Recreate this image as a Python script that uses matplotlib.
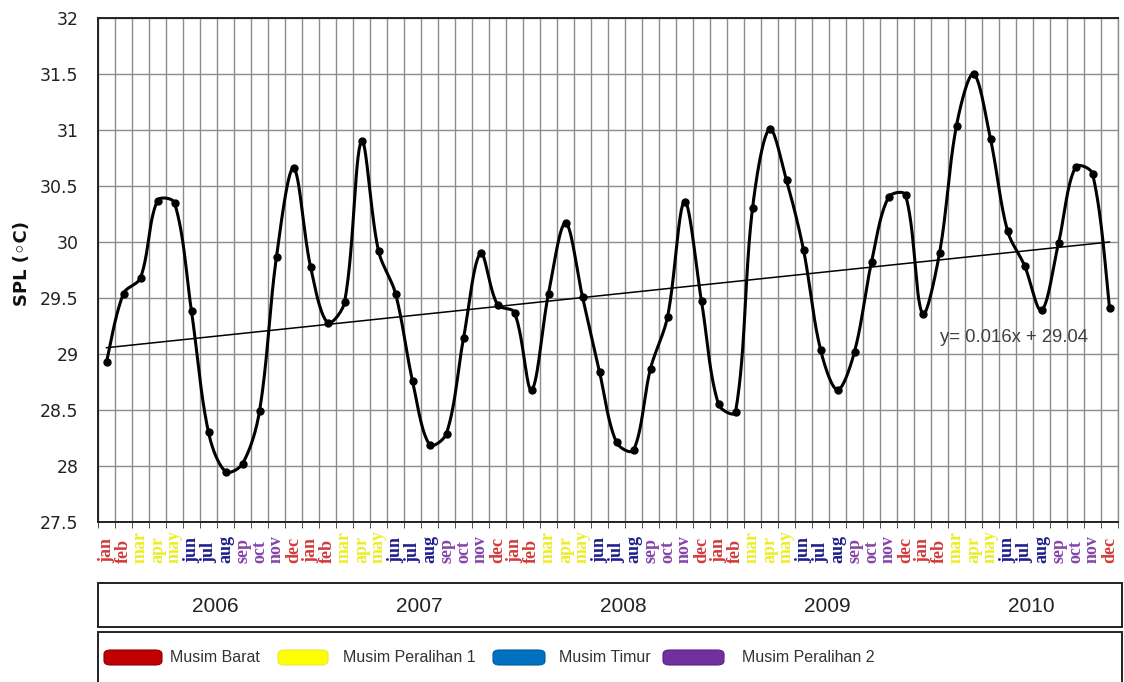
import numpy as np
import matplotlib
matplotlib.use('Agg')
import matplotlib.pyplot as plt
from matplotlib.patches import Rectangle, FancyBboxPatch
from matplotlib.transforms import blended_transform_factory

# ---------------- data ----------------
months = ['jan', 'feb', 'mar', 'apr', 'may', 'jun', 'jul', 'aug', 'sep', 'oct', 'nov', 'dec']
years = ['2006', '2007', '2008', '2009', '2010']
spl = [
    28.93, 29.54, 29.68, 30.37, 30.35, 29.38, 28.30, 27.95, 28.02, 28.49, 29.87, 30.66,   # 2006
    29.78, 29.28, 29.46, 30.90, 29.92, 29.54, 28.76, 28.19, 28.29, 29.14, 29.90, 29.44,   # 2007
    29.37, 28.68, 29.54, 30.17, 29.51, 28.84, 28.21, 28.14, 28.87, 29.33, 30.36, 29.47,   # 2008
    28.55, 28.48, 30.30, 31.01, 30.55, 29.93, 29.04, 28.68, 29.02, 29.82, 30.40, 30.42,   # 2009
    29.36, 29.90, 31.04, 31.50, 30.92, 30.10, 29.79, 29.39, 29.99, 30.67, 30.61, 29.41,   # 2010
]
trend_slope = 0.016
trend_intercept = 29.04
season_names = ['Musim Barat', 'Musim Peralihan 1', 'Musim Timur', 'Musim Peralihan 2']
season_colors = ['#C00000', '#FFFF00', '#0070C0', '#7030A0']
season_edges = ['#900000', '#E8E840', '#005A9C', '#5A2080']
month_season = [0, 0, 1, 1, 1, 2, 2, 2, 3, 3, 3, 0]
month_label_colors = ['#D03C3C', '#EDED2A', '#1E1E8C', '#8646AA']
y_ticks = [27.5, 28, 28.5, 29, 29.5, 30, 30.5, 31, 31.5, 32]

W, H = 1124, 682


def fx(px):
    return px / W


def fy(py):
    return 1 - py / H


def smooth_bezier(x, y, sx, sy, n=30):
    """Excel-like smoothed line: cubic Bezier segments, tangents weighted by segment lengths (screen space)."""
    P = np.column_stack([np.asarray(x, float) * sx, np.asarray(y, float) * sy])
    m = len(P)
    d = np.hypot(*(P[1:] - P[:-1]).T)
    T = np.zeros_like(P)
    T[1:-1] = P[2:] - P[:-2]
    T[0] = P[1] - P[0]
    T[-1] = P[-1] - P[-2]
    out = []
    t = np.linspace(0, 1, n, endpoint=False)[:, None]
    for i in range(m - 1):
        w1 = 0.5 if i == 0 else d[i] / (d[i - 1] + d[i])
        w2 = 0.5 if i + 1 == m - 1 else d[i] / (d[i] + d[i + 1])
        p0 = P[i]
        p3 = P[i + 1]
        c1 = p0 + T[i] * w1 / 3.0
        c2 = p3 - T[i + 1] * w2 / 3.0
        seg = ((1 - t) ** 3) * p0 + 3 * ((1 - t) ** 2) * t * c1 + 3 * (1 - t) * t ** 2 * c2 + t ** 3 * p3
        out.append(seg)
    out.append(P[-1][None])
    C = np.vstack(out)
    return C[:, 0] / sx, C[:, 1] / sy


fig = plt.figure(figsize=(W / 100, H / 100), dpi=100)
fig.patch.set_facecolor('white')

ax = fig.add_axes([fx(98), fy(522), fx(1118) - fx(98), fy(18) - fy(522)])
n = len(spl)
x = np.arange(1, n + 1)

ax.set_xlim(0.5, n + 0.5)
ax.set_ylim(27.5, 32)

# grid
ax.set_yticks(y_ticks)
ax.set_yticklabels(['%g' % v for v in y_ticks], fontsize=12.5, color='#222222',
                   family=['DejaVu Sans'])
ax.set_xticks(np.arange(0.5, n + 1, 1.0), minor=True)
ax.set_xticks([])
ax.grid(True, which='minor', axis='x', color='#8c8c8c', linewidth=1.0)
ax.grid(True, which='major', axis='y', color='#8c8c8c', linewidth=1.0)
ax.set_axisbelow(True)
ax.tick_params(axis='x', which='minor', length=4, color='#333333', labelbottom=False)
ax.tick_params(axis='y', which='major', length=0, pad=14)

# month labels (rotated, start-aligned at the bottom)
trans = blended_transform_factory(ax.transData, fig.transFigure)
for i in range(n):
    ax.text(x[i], fy(563), months[i % 12], rotation=90, ha='center', va='bottom',
            fontsize=13, fontweight='bold', family=['Liberation Serif', 'DejaVu Serif'],
            color=month_label_colors[month_season[i % 12]], transform=trans, clip_on=False)

for s in ax.spines.values():
    s.set_color('#222222')
    s.set_linewidth(1.4)
ax.spines['right'].set_color('#8c8c8c')
ax.spines['right'].set_linewidth(1.0)

# smoothed series
cx, cy = smooth_bezier(x, spl, 17.0, 112.0)
ax.plot(cx, cy, color='black', linewidth=2.2, solid_capstyle='round', zorder=3)
ax.plot(x, spl, linestyle='none', marker='o', markersize=5, color='black', zorder=4)

# trendline
ax.plot([x[0], x[-1]], [trend_slope * x[0] + trend_intercept, trend_slope * x[-1] + trend_intercept],
        color='black', linewidth=1.1, zorder=2)
ax.text(50.0, 29.15, 'y= %.3fx + %.2f' % (trend_slope, trend_intercept), fontsize=13.3,
        color='#404040', va='center', ha='left', family=['Liberation Sans', 'DejaVu Sans'], zorder=5)

fig.text(fx(22), fy(264), 'SPL (\u25e6C)', rotation=90, ha='center', va='center',
         fontsize=13, fontweight='bold', family=['DejaVu Sans'], color='#111111')

# year box
fig.patches.append(Rectangle((fx(98), fy(627)), fx(1122) - fx(98), fy(583) - fy(627),
                             transform=fig.transFigure, fill=False, edgecolor='#222222', linewidth=1.4))
for i, yr in enumerate(years):
    xc = 12 * i + 7.4
    px = 98 + (xc - 0.5) * 17.0
    fig.text(fx(px), fy(606), yr, fontsize=15, ha='center', va='center', color='#222222',
             family=['Liberation Sans Narrow', 'Liberation Sans', 'DejaVu Sans'])

# legend box
fig.patches.append(Rectangle((fx(98), fy(686)), fx(1122) - fx(98), fy(632) - fy(686),
                             transform=fig.transFigure, fill=False, edgecolor='#222222', linewidth=1.4,
                             clip_on=False))
patch_x = [(104, 162), (278, 328), (493, 545), (663, 724)]
text_x = [170, 343, 559, 742]
for i, name in enumerate(season_names):
    x0, x1 = patch_x[i]
    fig.patches.append(FancyBboxPatch((fx(x0), fy(665)), fx(x1) - fx(x0), fy(650) - fy(665),
                                      boxstyle='round,pad=0,rounding_size=0.006',
                                      transform=fig.transFigure, facecolor=season_colors[i],
                                      edgecolor=season_edges[i], linewidth=0.8))
    fig.text(fx(text_x[i]), fy(658), name, fontsize=11.5, ha='left', va='center', color='#333333',
             family=['Liberation Sans', 'DejaVu Sans'])

fig.savefig('out.png', dpi=100, facecolor='white')
